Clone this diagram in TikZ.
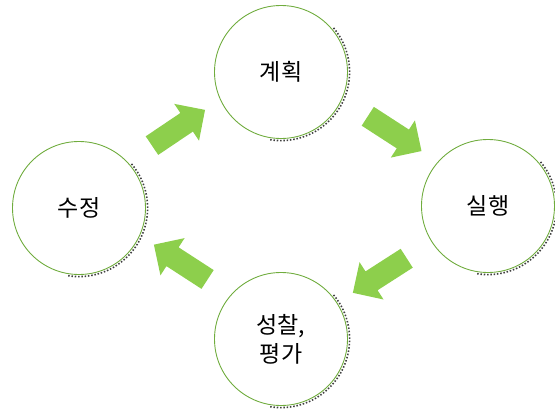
\documentclass[tikz,border=0pt]{standalone}
\usepackage{fontspec}
\setmainfont{Noto Sans CJK KR}
\usetikzlibrary{shapes.arrows}
\definecolor{leafgreen}{RGB}{141,207,76}
\definecolor{ringgreen}{RGB}{112,172,62}
\tikzset{
  stage/.style={circle, draw=ringgreen, line width=0.9pt, minimum size=133pt, inner sep=0pt, align=center, font=\fontsize{23}{29}\selectfont, text=black},
  rim/.style={black!75, line width=1.6pt, dash pattern=on 1.5pt off 1.8pt},
  flow/.style={single arrow, fill=leafgreen, draw=none, inner sep=11pt, minimum height=64pt, single arrow head extend=11pt, single arrow tip angle=90, sloped, allow upside down, midway}
}
\begin{document}
\begin{tikzpicture}[x=1pt, y=1pt]
\useasboundingbox (0,0) rectangle (555,-410);
\node[stage] (plan) at (281,-72) {계획};
\node[stage] (act) at (488,-206) {실행};
\node[stage] (review) at (281,-339) {성찰,\\평가};
\node[stage] (revise) at (79,-208) {수정};
% dotted shadow on the lower right of each ring
\foreach \c in {plan,act,review,revise}
  \draw[rim] (\c) ++(40:68.6) arc (40:-100:68.6);
% cycle arrows
\path (revise) -- (plan) node[flow, yshift=11pt] (revise-plan) {};
\path (plan) -- (act) node[flow, yshift=10pt] (plan-act) {};
\path (act) -- (review) node[flow] (act-review) {};
\path (review) -- (revise) node[flow, yshift=-10pt] (review-revise) {};
\end{tikzpicture}
\end{document}
